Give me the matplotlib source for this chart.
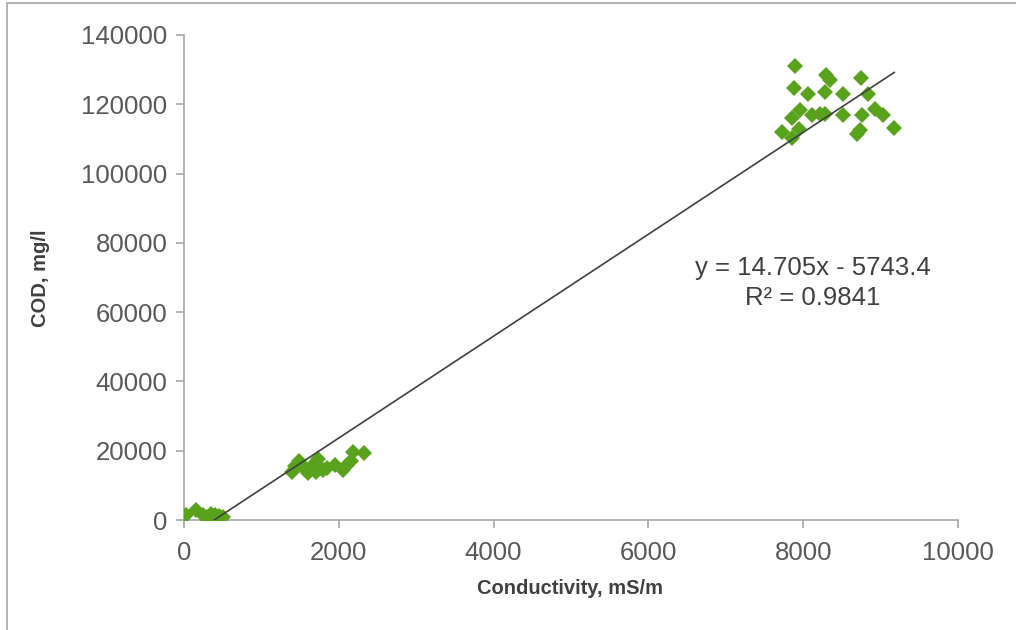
import matplotlib
matplotlib.use("Agg")
import matplotlib.pyplot as plt
from matplotlib.patches import Rectangle
import numpy as np

plt.rcParams['font.family'] = ['Liberation Sans', 'DejaVu Sans']

# Low-conductivity cluster
low_x = [20, 150, 250, 300, 350, 400, 450, 500]
low_y = [1400, 2900, 1500, 1000, 1800, 1500, 1200, 900]

# Middle cluster
mid_x = [1400, 1430, 1480, 1510, 1560, 1600, 1650, 1700, 1730, 1760, 1800,
         1850, 1950, 2050, 2100, 2160, 2180, 2320]
mid_y = [14000, 15500, 17000, 16000, 15000, 13500, 15500, 14000, 17500, 15000,
         14500, 15000, 16000, 14500, 16000, 17000, 19500, 19300]

# High cluster
high_x = [7894, 8295, 8346, 7881, 8062, 8279, 7959, 7851, 8110, 8217, 8282,
          7722, 7946, 7851, 8747, 8518, 8841, 8518, 8763, 8934, 9035, 8691,
          8734, 9177]
high_y = [131000, 128500, 127000, 124800, 123000, 123600, 118400, 116100,
          117000, 117100, 117100, 112100, 112900, 110300, 127500, 123000,
          122900, 116900, 116900, 118600, 116900, 111400, 112600, 113100]

slope = 14.705
intercept = -5743.4
eq_line1 = "y = 14.705x - 5743.4"
eq_line2 = "R² = 0.9841"

xs = np.array(low_x + mid_x + high_x, dtype=float)
ys = np.array(low_y + mid_y + high_y, dtype=float)

fig = plt.figure(figsize=(10.16, 6.30), dpi=100)
ax = fig.add_axes([184/1016, 1-520/630, (958-184)/1016, (520-35)/630])

green = '#58A21C'
ax.plot(xs, ys, linestyle='none', marker='D', markersize=8,
        color=green, markeredgewidth=0, zorder=3)

lx = np.linspace(0, xs.max(), 200)
ax.plot(lx, slope*lx + intercept, color='#404040', linewidth=1.2, zorder=4)

ax.set_xlim(0, 10000)
ax.set_ylim(0, 140000)
ax.set_xticks(np.arange(0, 10001, 2000))
ax.set_yticks(np.arange(0, 140001, 20000))

for s in ['top', 'right']:
    ax.spines[s].set_visible(False)
for s in ['left', 'bottom']:
    ax.spines[s].set_color('#a6a6a6')
    ax.spines[s].set_linewidth(1.2)
ax.tick_params(axis='both', direction='out', length=6, width=1.2,
               color='#a6a6a6', labelsize=18.5, labelcolor='#595959')
ax.tick_params(axis='y', pad=6)
ax.tick_params(axis='x', pad=9)

ax.set_xlabel('Conductivity, mS/m', fontsize=14.5, fontweight='bold',
              color='#404040')
ax.set_ylabel('COD, mg/l', fontsize=14.5, fontweight='bold',
              color='#404040')
inv = ax.transAxes.inverted()
ax.xaxis.set_label_coords(*inv.transform(fig.transFigure.transform((570/1016, 1-588/630))))
ax.yaxis.set_label_coords(*inv.transform(fig.transFigure.transform((40/1016, 1-278/630))))
ax.xaxis.label.set_va('center')
ax.yaxis.label.set_va('center')

ax.text(8127, 72700, eq_line1, ha='center', va='center', fontsize=18.5,
        color='#404040')
ax.text(8127, 64100, eq_line2, ha='center', va='center', fontsize=18.5,
        color='#404040')

fig.patches.append(Rectangle((7/1016, -0.2), 1.5, 0.2 + 1 - 3/630,
                             transform=fig.transFigure, fill=False,
                             edgecolor='#a6a6a6', linewidth=1.2))

fig.savefig('out.png', dpi=100)
